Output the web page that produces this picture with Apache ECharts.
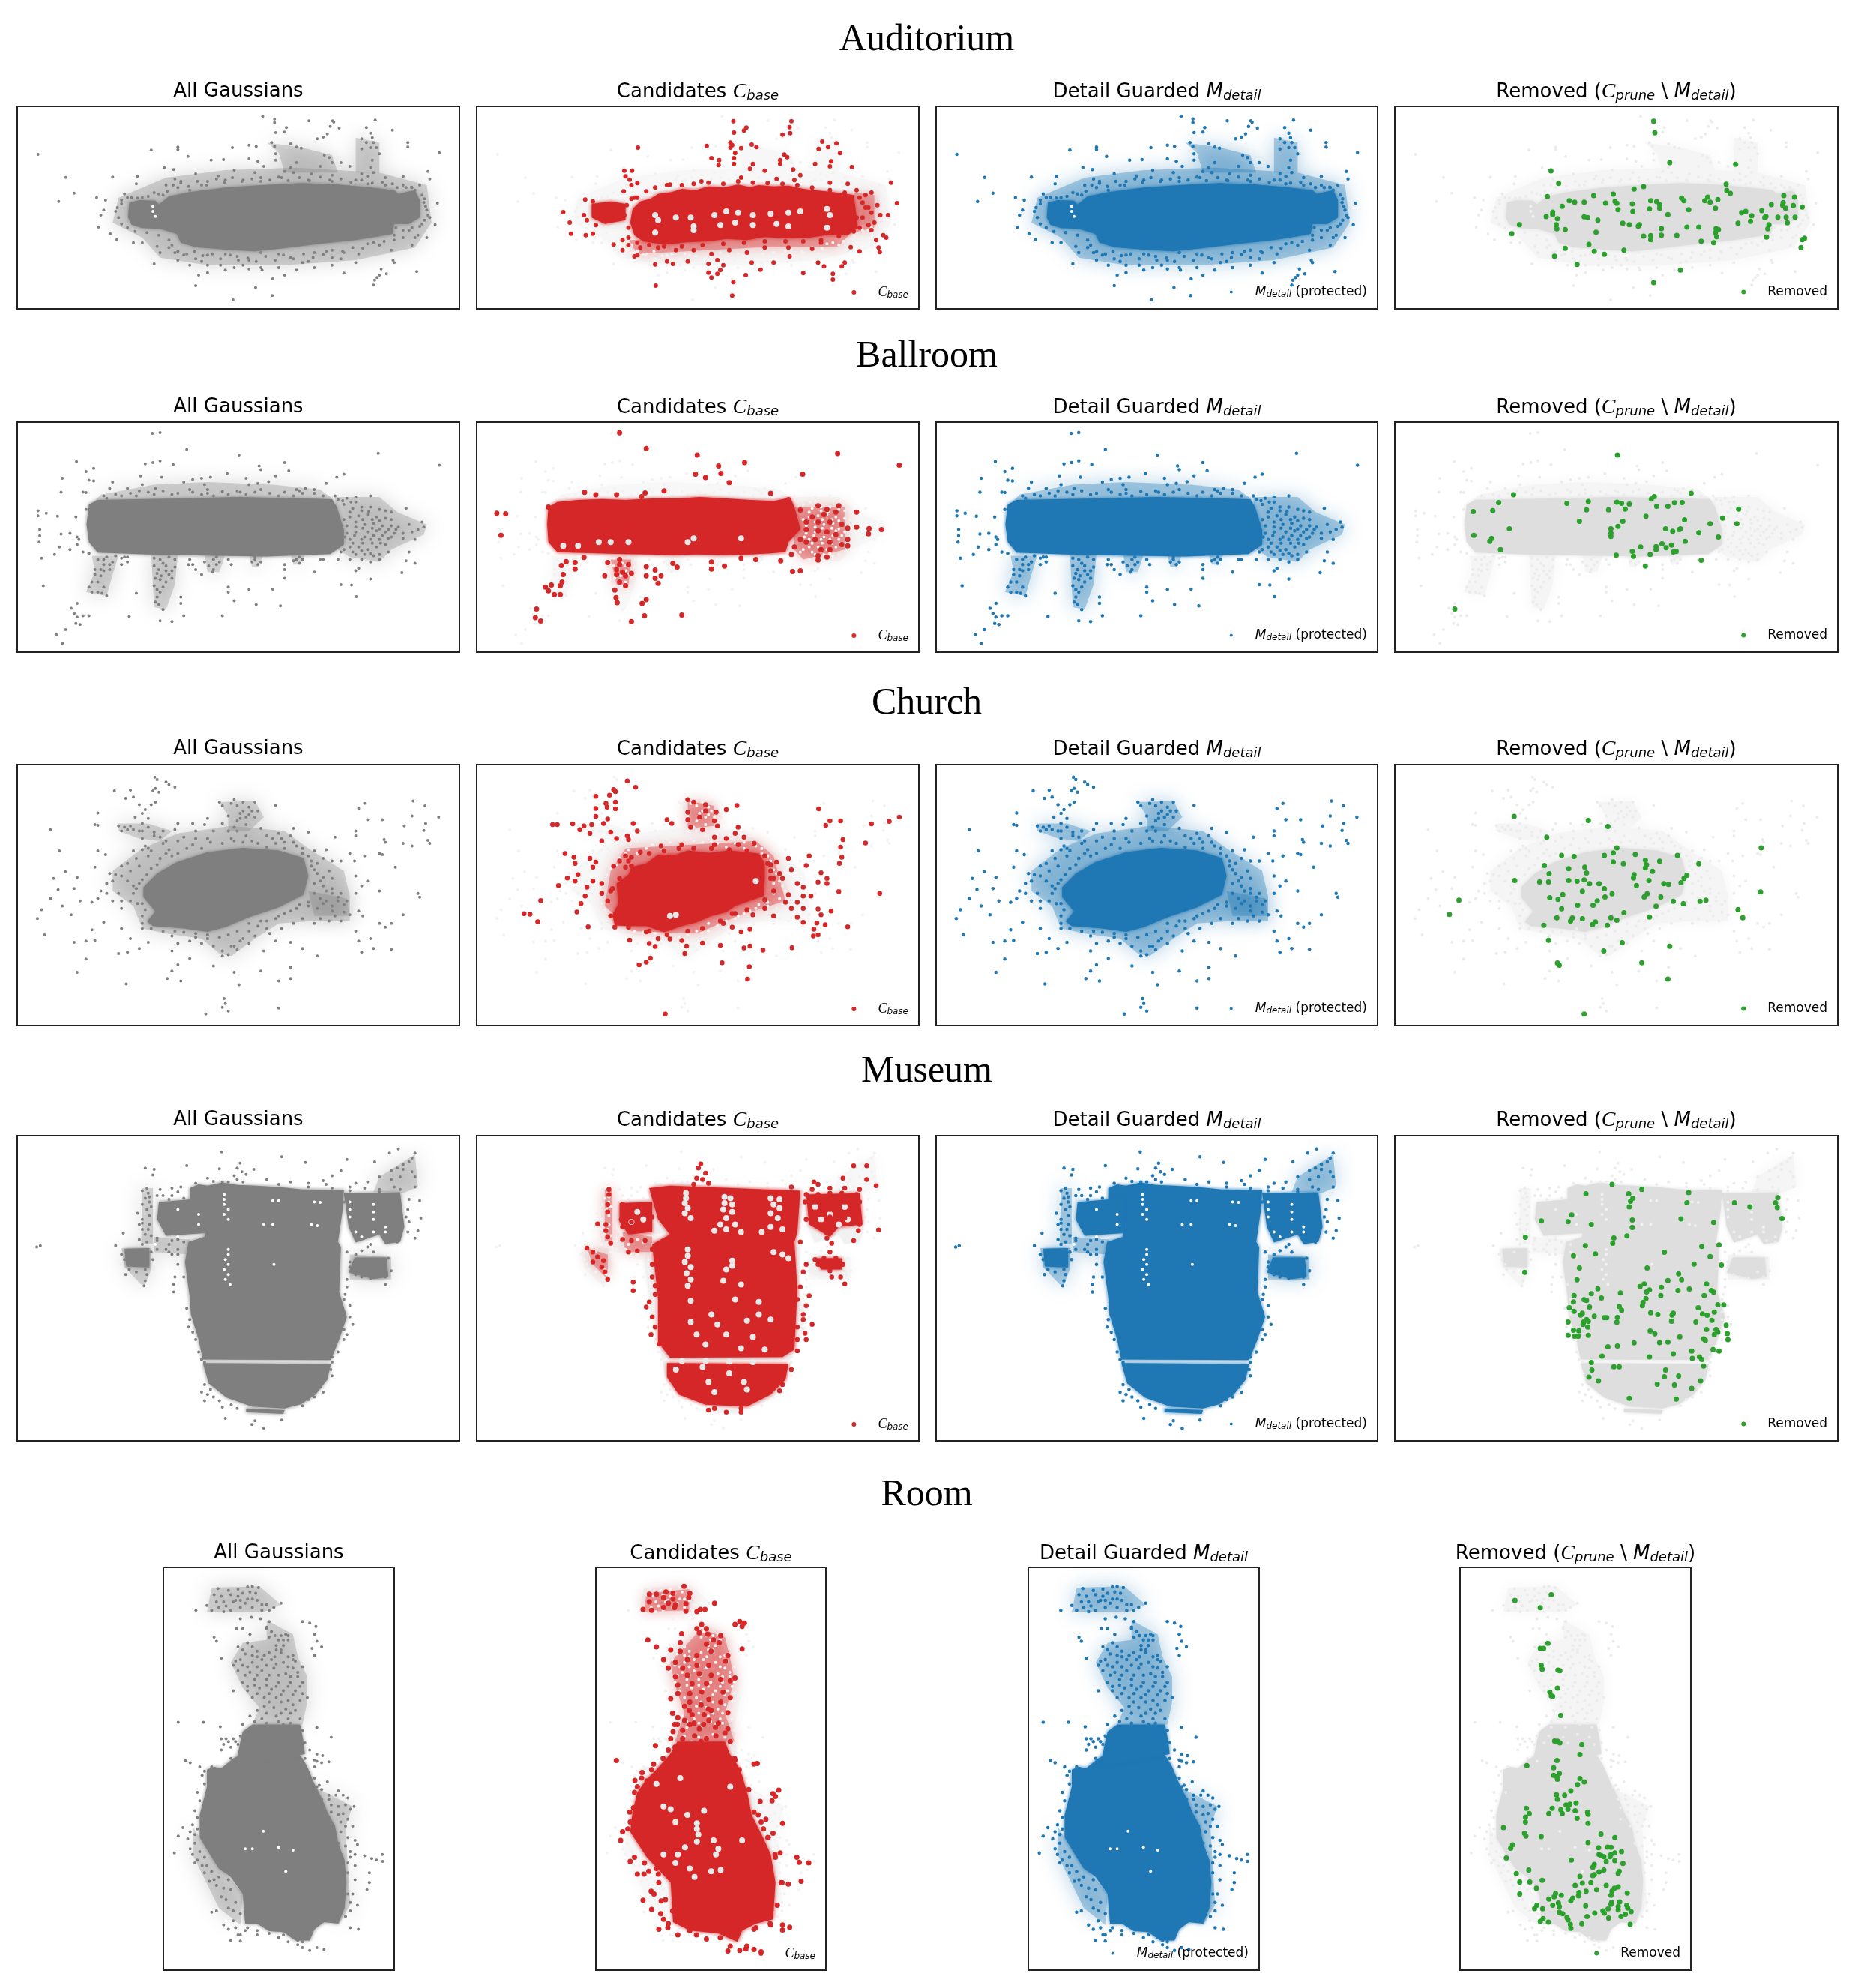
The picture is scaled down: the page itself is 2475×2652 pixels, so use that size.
<!DOCTYPE html>
<html>
<head>
<meta charset="utf-8">
<script src="https://cdn.jsdelivr.net/npm/echarts@6/dist/echarts.min.js"></script>
<style>
  html, body { margin: 0; background: #fff; }
  #chart { width: 2475px; height: 2652px; }
</style>
</head>
<body>
<div id="chart"></div>
<script>
// values, same unitless scene coordinates for all four panels of a row
const auditoriumCore = [
  [[218,540],[235,530],[262,532],[268,548],[285,515],[320,498],[380,480],[440,470],[510,462],[570,468],[620,478],[665,490],[672,505],[700,490],[708,530],[708,600],[690,625],[665,625],[662,665],[640,675],[600,690],[540,705],[480,722],[430,735],[380,728],[330,718],[305,700],[298,665],[270,645],[240,642],[222,628],[216,600]]
]
const auditoriumHaze = [
  [[200,520],[280,440],[380,410],[500,400],[640,420],[720,470],[728,620],[700,720],[600,770],[480,790],[350,790],[270,760],[240,680],[190,620]],
  [[600,280],[640,300],[640,420],[600,420]],
  [[450,300],[510,320],[560,350],[570,420],[480,420],[470,340]]
]
const auditoriumCandCore = [
  [[292,565],[305,535],[322,525],[335,505],[358,498],[375,485],[398,490],[420,475],[445,480],[470,468],[490,478],[505,470],[530,475],[555,472],[580,485],[605,492],[630,498],[665,510],[668,560],[672,640],[655,670],[620,670],[590,680],[550,682],[515,678],[485,690],[450,685],[420,695],[385,698],[345,708],[310,695],[295,670],[288,620]],
  [[223,545],[255,535],[280,545],[280,610],[245,625],[223,600]]
]
const auditoriumCandHaze = [
  [[285,690],[660,660],[640,715],[500,720],[300,745]],
  [[665,500],[700,510],[700,640],[665,660]]
]
const auditoriumCloud = [[443,195],[463,205],[463,220],[521,213],[561,213],[563,218],[633,210],[64,347],[255,330],[300,318],[300,328],[741,340],[111,439],[125,502],[99,535],[190,438],[163,520],[738,542],[734,628],[166,638],[186,665],[197,688],[483,240],[480,258],[465,260],[557,235],[572,242],[552,265],[545,278],[535,285],[618,240],[625,262],[628,280],[662,250],[610,285],[618,300],[630,300],[625,320],[635,320],[640,345],[610,325],[688,300],[688,318],[420,310],[432,315],[458,300],[463,315],[490,305],[500,318],[508,322],[392,320],[547,350],[555,360],[560,380],[465,345],[465,370],[317,355],[356,370],[377,368],[420,365],[435,375],[445,395],[500,380],[490,400],[480,415],[495,420],[540,395],[575,380],[590,395],[628,370],[625,400],[630,420],[610,425],[620,435],[277,400],[293,408],[330,425],[368,433],[232,435],[230,465],[295,445],[305,455],[350,455],[395,410],[430,420],[475,440],[525,425],[560,430],[600,450],[650,440],[680,435],[722,415],[708,470],[695,480],[725,445],[280,470],[300,480],[320,490],[340,470],[380,450],[410,450],[440,455],[520,450],[560,455],[620,465],[650,470],[670,480],[260,500],[275,510],[210,505],[205,530],[178,530],[175,570],[170,590],[198,560],[215,520],[240,520],[685,480],[700,490],[712,510],[715,540],[720,570],[722,590],[716,610],[708,635],[690,650],[705,670],[680,680],[720,680],[668,640],[665,670],[240,700],[225,700],[265,715],[285,720],[260,785],[270,740],[295,740],[310,750],[330,765],[350,750],[380,745],[400,755],[420,770],[440,740],[470,745],[490,760],[510,780],[530,740],[550,735],[575,765],[580,740],[605,745],[620,705],[640,710],[660,730],[665,780],[695,710],[700,680],[600,780],[560,790],[530,800],[500,810],[470,800],[440,800],[410,790],[380,810],[350,820],[335,830],[320,790],[580,822],[480,830],[460,845],[442,810],[632,850],[640,830],[636,840],[652,825],[630,870],[703,816],[330,872],[431,880],[459,912],[393,929],[643,805],[663,770]]
const auditoriumEdge = [[292,470],[305,462],[318,475],[333,455],[348,470],[365,445],[378,460],[392,440],[408,455],[425,445],[440,440],[455,450],[470,438],[486,452],[505,440],[522,452],[540,438],[556,450],[575,445],[592,458],[610,450],[628,462],[645,458],[662,465],[680,470],[694,478],[268,505],[282,495],[250,515],[232,522],[222,520],[205,545],[195,575],[200,600],[205,625],[215,640],[228,655],[248,660],[268,670],[285,690],[290,710],[300,735],[315,745],[328,735],[342,752],[358,745],[372,765],[388,750],[402,770],[418,762],[432,775],[448,755],[464,770],[478,750],[495,765],[512,745],[528,760],[545,748],[560,730],[578,735],[595,720],[612,722],[630,700],[648,695],[665,690],[680,650],[695,640],[712,625],[725,600],[718,555],[716,525],[350,790],[372,790],[395,800],[420,805],[520,775],[560,760],[300,770],[340,775]]
const auditoriumCloudGaps = [[258,555],[258,575],[262,595]]
const auditoriumCand = [[462,214],[560,214],[557,238],[484,240],[480,252],[463,260],[558,262],[545,268],[301,320],[417,313],[457,300],[460,310],[457,320],[475,322],[493,308],[501,318],[612,296],[636,303],[622,318],[606,325],[642,342],[465,342],[548,348],[553,358],[425,362],[438,370],[463,362],[463,385],[541,370],[600,385],[627,375],[625,395],[495,385],[490,405],[437,390],[541,385],[563,408],[662,398],[278,412],[291,412],[515,412],[280,435],[287,448],[300,462],[290,470],[408,455],[475,440],[575,430],[535,445],[565,450],[625,460],[655,465],[728,460],[355,468],[277,495],[295,520],[212,528],[738,542],[705,550],[695,580],[710,590],[723,590],[700,620],[175,578],[186,620],[188,664],[213,670],[225,664],[715,670],[720,680],[703,690],[707,720],[709,738],[675,735],[660,718],[275,690],[285,710],[260,708],[275,730],[305,720],[335,720],[365,730],[395,730],[425,745],[455,730],[485,740],[515,720],[555,720],[595,725],[610,700],[300,750],[295,755],[350,775],[330,787],[360,785],[385,775],[420,785],[435,770],[445,790],[493,780],[530,780],[557,755],[605,780],[615,795],[650,780],[645,795],[420,820],[440,810],[425,840],[435,825],[483,830],[508,808],[580,822],[630,825],[630,848],[331,872],[462,858],[460,912],[685,510],[695,500],[670,490],[680,540],[690,560],[670,600],[675,640],[695,650]]
const auditoriumCandEdge = [[300,520],[315,495],[330,480],[350,470],[375,470],[395,465],[420,460],[445,465],[470,455],[495,460],[520,462],[545,465],[570,470],[595,480],[625,490],[650,500],[675,520],[685,560],[680,600],[690,630],[665,655],[640,675],[610,690],[580,695],[550,695],[515,695],[480,700],[445,705],[410,710],[375,715],[345,715],[320,710],[300,700],[285,680],[285,640],[278,590],[282,550],[298,580],[210,590],[215,610],[230,630],[225,535],[290,525]]
const auditoriumCandHoles = [[390,600],[430,590],[450,575],[470,580],[495,590],[525,585],[555,580],[575,575],[620,565],[625,590],[330,590],[335,610],[395,635],[440,630],[465,620],[495,630],[535,625],[555,635],[330,660],[395,650],[620,640],[365,600]]
const auditoriumRemoved = [[465,214],[467,261],[492,380],[603,387],[292,413],[305,463],[587,466],[588,491],[594,503],[448,476],[432,486],[397,506],[364,512],[286,516],[323,532],[332,538],[348,538],[384,542],[400,535],[403,543],[429,545],[460,532],[470,536],[475,548],[512,522],[516,532],[551,532],[556,518],[560,538],[573,528],[684,512],[702,518],[663,548],[683,540],[682,550],[687,562],[700,552],[715,558],[311,555],[405,568],[430,575],[458,565],[475,562],[524,568],[569,562],[647,572],[613,580],[620,575],[295,578],[295,588],[489,588],[630,592],[284,596],[348,597],[354,600],[303,604],[371,610],[652,600],[654,595],[674,598],[688,598],[703,598],[628,615],[607,622],[690,621],[413,622],[424,628],[439,634],[441,628],[239,628],[301,628],[302,645],[316,648],[478,644],[521,638],[541,638],[659,628],[657,645],[570,644],[574,648],[569,660],[368,658],[226,664],[448,674],[460,672],[460,688],[478,670],[504,671],[571,676],[655,678],[719,682],[715,688],[545,694],[566,700],[356,707],[713,720],[316,723],[365,735],[415,730],[382,747],[298,754],[336,787],[510,810],[465,860]]

const ballroomCore = [
  [[150,460],[165,442],[300,436],[400,430],[560,438],[568,470],[580,560],[580,620],[557,658],[450,668],[350,664],[250,660],[165,652],[150,610],[146,540]]
]
const ballroomHaze = [
  [[565,430],[640,430],[670,490],[720,540],[715,580],[660,640],[640,690],[590,670],[570,640]],
  [[170,420],[260,380],[350,370],[460,380],[540,400],[560,435],[160,445]],
  [[255,660],[300,660],[295,780],[280,880],[260,870],[258,780]],
  [[155,665],[200,665],[190,740],[180,825],[145,810],[160,730]],
  [[345,660],[380,660],[370,730],[350,730]],
  [[420,660],[445,660],[435,710],[425,710]],
  [[490,660],[515,660],[505,700],[495,700]]
]
const ballroomCandCore = [
  [[150,470],[165,450],[200,442],[240,438],[280,442],[325,436],[370,436],[405,430],[450,436],[490,442],[530,446],[558,432],[565,470],[572,530],[575,560],[555,610],[550,650],[525,655],[490,660],[445,662],[400,660],[360,662],[320,660],[280,658],[235,655],[190,652],[165,650],[150,610],[148,540]]
]
const ballroomCandHaze = [
  [[565,470],[650,470],[650,640],[580,680],[565,640]],
  [[255,680],[290,680],[285,780],[265,780]]
]
const ballroomCloud = [[257,175],[270,172],[315,240],[403,262],[638,255],[741,302],[129,288],[245,297],[258,292],[270,285],[292,300],[145,328],[158,315],[105,355],[150,362],[158,365],[103,410],[140,410],[145,412],[480,292],[437,305],[440,320],[383,335],[487,325],[580,338],[568,350],[550,375],[190,370],[185,395],[215,395],[237,345],[240,380],[235,405],[273,350],[262,395],[310,370],[325,360],[340,355],[355,350],[345,380],[350,400],[340,420],[320,400],[290,420],[260,420],[230,425],[205,425],[180,435],[415,355],[420,380],[435,375],[453,368],[440,400],[405,410],[415,420],[385,420],[465,345],[500,400],[515,395],[530,400],[510,415],[495,425],[470,425],[545,425],[360,425],[565,425],[585,435],[600,430],[625,425],[580,460],[600,450],[610,470],[625,470],[640,480],[650,485],[660,490],[685,475],[590,490],[605,505],[620,500],[635,510],[650,515],[660,520],[580,520],[600,530],[615,540],[630,535],[645,545],[660,545],[672,550],[690,540],[712,530],[715,550],[705,560],[695,570],[680,575],[665,575],[650,570],[635,565],[620,570],[600,570],[585,575],[590,600],[610,600],[625,600],[640,600],[655,595],[680,595],[700,600],[590,630],[605,630],[620,640],[635,630],[650,620],[615,660],[630,665],[655,650],[690,650],[700,695],[640,680],[600,660],[575,650],[685,685],[570,680],[545,680],[64,485],[64,505],[67,560],[67,585],[66,610],[78,495],[97,507],[128,510],[145,480],[118,575],[103,578],[130,590],[100,630],[118,640],[130,620],[92,660],[70,675],[140,650],[150,655],[73,785],[133,600],[165,680],[180,670],[175,700],[160,720],[185,720],[170,745],[165,770],[150,790],[165,810],[180,825],[155,810],[190,690],[210,670],[215,690],[260,675],[285,670],[295,680],[260,705],[280,705],[295,710],[265,735],[285,740],[270,760],[280,770],[260,785],[270,810],[265,830],[262,850],[275,880],[305,830],[305,855],[310,905],[290,928],[270,925],[218,908],[230,815],[318,700],[330,720],[340,740],[360,680],[365,700],[370,690],[360,720],[385,680],[385,790],[385,810],[395,845],[430,680],[435,700],[420,800],[432,860],[473,865],[375,905],[460,798],[480,720],[480,755],[500,680],[505,695],[540,680],[530,730],[605,715],[600,725],[575,780],[593,782],[601,828],[625,758],[678,732],[130,855],[120,875],[125,895],[130,910],[140,905],[135,940],[128,935],[150,905],[111,960],[95,980],[105,1015]]
const ballroomEdge = [[175,425],[195,420],[220,415],[250,410],[275,405],[300,415],[325,410],[350,415],[375,408],[400,405],[430,410],[455,415],[480,410],[505,405],[530,415],[570,440],[578,445],[592,450],[595,475],[610,485],[622,488],[590,510],[612,520],[628,520],[640,525],[585,545],[600,550],[612,555],[628,555],[640,558],[655,560],[668,560],[582,590],[598,585],[615,590],[630,585],[645,585],[660,590],[595,615],[612,615],[628,615],[642,615],[580,640],[595,650],[610,645],[625,655],[640,660],[610,680],[625,690],[590,680],[270,680],[275,695],[268,720],[280,725],[290,725],[272,745],[262,755],[290,755],[275,790],[265,800],[268,860],[175,680],[185,700],[170,720],[175,725],[160,740],[155,770],[175,790],[172,815],[345,690],[352,705],[358,730],[365,670],[320,680],[325,700],[215,670],[205,700],[430,668],[425,690],[440,690],[505,670],[495,685],[510,680],[480,700],[390,700],[205,675],[195,665]]
const ballroomCand = [[270,173],[315,236],[401,262],[638,256],[742,302],[437,305],[481,292],[398,338],[415,352],[441,335],[579,338],[455,372],[211,411],[230,421],[265,421],[313,413],[307,428],[345,405],[525,415],[63,495],[78,497],[70,583],[150,470],[555,440],[575,482],[605,465],[640,465],[620,480],[635,490],[670,490],[595,510],[615,500],[585,530],[605,530],[625,530],[645,540],[670,550],[691,556],[712,560],[690,577],[655,555],[585,560],[605,565],[620,570],[635,580],[655,600],[575,600],[600,600],[625,610],[585,610],[645,620],[655,625],[565,630],[610,640],[625,640],[560,660],[605,665],[620,670],[605,682],[575,725],[562,728],[542,685],[210,672],[180,688],[172,704],[195,692],[195,718],[175,740],[173,770],[155,782],[145,790],[150,805],[160,820],[170,820],[170,785],[250,692],[270,680],[270,700],[285,700],[265,720],[275,730],[265,740],[280,745],[270,770],[280,785],[262,802],[264,832],[266,852],[315,708],[330,722],[340,745],[315,745],[330,755],[335,775],[290,735],[245,745],[360,695],[367,710],[425,690],[425,718],[447,706],[475,675],[500,680],[315,840],[308,855],[130,878],[128,912],[137,926],[290,928],[312,905],[375,902]]
const ballroomCandHoles = [[395,595],[475,595],[235,610],[200,625],[255,610],[285,610],[175,625],[385,610]]
const ballroomRemoved = [[404,262],[229,421],[528,415],[466,428],[461,438],[204,452],[319,455],[355,448],[403,451],[411,455],[424,458],[500,453],[513,452],[470,467],[489,467],[161,488],[194,484],[352,481],[389,481],[417,478],[608,478],[452,507],[581,514],[340,527],[413,527],[517,521],[560,537],[605,537],[405,547],[222,557],[393,557],[485,557],[510,557],[508,560],[497,567],[393,575],[393,588],[162,583],[541,573],[574,590],[192,596],[189,607],[518,607],[479,617],[495,622],[469,628],[469,640],[443,630],[486,633],[207,640],[429,647],[498,650],[503,648],[402,663],[431,667],[459,660],[545,683],[451,706],[130,878]]

const churchCore = [
  [[242,625],[265,570],[298,525],[350,485],[410,468],[470,478],[512,508],[520,580],[512,655],[470,705],[420,745],[380,785],[350,803],[310,790],[258,780],[248,762],[262,722],[242,665]]
]
const churchHaze = [
  [[190,560],[240,470],[300,410],[390,380],[480,400],[520,470],[580,560],[590,660],[590,760],[530,760],[470,770],[430,830],[390,900],[370,890],[340,830],[280,810],[240,790],[225,700],[190,640]],
  [[370,285],[430,280],[445,345],[420,400],[385,400],[385,340]],
  [[200,370],[250,370],[290,400],[270,440],[235,430],[200,400]],
  [[520,640],[585,670],[590,740],[530,740]]
]
const churchCandCore = [
  [[265,610],[285,575],[290,545],[315,530],[335,495],[365,495],[385,478],[420,488],[455,478],[505,490],[515,530],[515,590],[513,660],[465,700],[450,725],[425,740],[400,765],[375,780],[345,805],[315,780],[290,780],[262,778],[258,735],[268,690]]
]
const churchCandHaze = [
  [[280,470],[500,440],[530,500],[550,680],[470,740],[400,810],[290,800],[245,700],[255,560]],
  [[385,280],[430,300],[430,380],[385,390]]
]
const churchCloud = [[261,185],[265,195],[280,205],[285,215],[295,225],[262,230],[258,240],[268,245],[193,240],[220,237],[212,270],[225,265],[262,285],[255,295],[235,295],[245,315],[240,330],[228,345],[165,328],[160,375],[165,378],[200,380],[210,385],[220,380],[240,370],[205,400],[235,400],[260,405],[275,400],[295,395],[270,425],[300,370],[325,370],[350,350],[240,430],[245,460],[275,450],[300,440],[370,285],[395,275],[410,285],[430,285],[400,300],[420,305],[435,320],[420,335],[430,345],[465,298],[385,340],[400,360],[385,400],[400,400],[415,420],[390,430],[425,440],[450,420],[470,410],[495,390],[490,420],[500,460],[480,445],[465,450],[520,405],[360,400],[350,430],[330,430],[615,290],[605,310],[620,355],[645,355],[697,280],[695,340],[717,300],[740,345],[682,380],[718,370],[715,398],[600,400],[565,425],[600,420],[648,435],[650,445],[680,450],[722,438],[725,450],[695,460],[590,490],[640,490],[645,495],[667,545],[615,500],[598,520],[575,520],[550,475],[530,480],[510,470],[520,500],[545,510],[560,520],[85,395],[100,480],[165,480],[178,495],[160,545],[110,563],[90,590],[130,585],[98,635],[125,630],[85,670],[70,715],[63,750],[75,815],[105,700],[120,735],[135,680],[155,685],[165,670],[180,650],[205,710],[195,575],[205,580],[185,570],[220,560],[235,540],[215,600],[225,620],[240,595],[200,650],[220,680],[240,690],[250,500],[270,510],[250,470],[280,490],[230,510],[175,765],[155,795],[125,845],[145,840],[160,838],[130,965],[145,912],[213,1012],[200,890],[215,885],[235,870],[250,845],[205,790],[220,830],[240,790],[525,540],[535,570],[545,585],[555,560],[560,590],[530,610],[545,620],[560,630],[575,650],[585,680],[570,680],[550,680],[530,650],[520,700],[535,710],[560,720],[580,725],[500,710],[480,730],[465,750],[440,760],[420,770],[450,790],[510,750],[540,750],[575,760],[590,735],[605,720],[612,740],[640,640],[705,650],[708,665],[600,580],[620,600],[610,620],[600,650],[660,770],[680,735],[625,830],[640,770],[650,785],[600,800],[605,840],[630,870],[660,873],[610,885],[535,900],[510,870],[490,845],[465,840],[445,880],[420,850],[400,875],[385,895],[375,900],[395,860],[350,830],[320,840],[330,810],[290,820],[300,850],[290,880],[320,910],[300,935],[290,960],[282,990],[305,1000],[360,940],[395,965],[440,960],[490,945],[490,990],[470,1000],[403,1015],[378,1070],[380,1090],[375,1105],[385,1120],[347,1132],[470,1108]]
const churchEdge = [[270,510],[290,500],[285,475],[300,490],[315,470],[325,455],[340,470],[355,445],[375,450],[395,440],[410,445],[435,450],[450,465],[480,470],[495,445],[510,490],[525,520],[535,530],[530,555],[540,600],[550,640],[540,670],[520,685],[505,695],[490,720],[470,740],[450,760],[435,780],[420,800],[400,800],[385,815],[370,825],[350,815],[330,825],[310,805],[295,800],[275,800],[255,790],[240,770],[240,740],[245,715],[232,690],[225,650],[230,630],[235,610],[248,575],[255,550],[265,535],[240,475],[255,480],[225,480],[215,530],[205,540],[190,600],[180,610],[170,640],[190,680],[205,680],[560,650],[570,665],[580,695],[560,700],[545,690],[565,740],[555,760],[530,770],[495,770],[475,790],[455,810],[430,820],[410,830],[390,860],[375,880],[405,840],[335,790],[340,850],[360,860],[280,440],[260,420],[310,425],[330,400],[345,375],[375,370],[395,385],[405,350],[415,375],[440,390],[460,430],[475,430],[410,320],[425,320],[405,330],[415,345],[390,290],[375,300],[240,400],[225,395],[250,385],[215,395],[250,350]]
const churchCand = [[283,200],[297,226],[260,235],[263,243],[230,262],[253,257],[247,290],[263,285],[230,310],[249,305],[263,312],[230,342],[250,352],[157,375],[165,375],[191,372],[210,380],[223,375],[243,370],[203,395],[220,410],[255,405],[283,420],[300,400],[293,370],[240,440],[265,430],[285,435],[350,355],[358,370],[385,275],[395,285],[415,295],[468,298],[385,325],[415,320],[433,325],[450,315],[385,355],[405,345],[430,360],[390,385],[410,395],[435,380],[470,385],[465,410],[430,425],[450,430],[480,425],[430,455],[470,455],[497,450],[375,455],[340,460],[305,485],[280,500],[285,520],[178,490],[193,505],[220,510],[195,530],[230,525],[225,545],[260,540],[290,540],[200,575],[182,588],[195,600],[225,600],[167,618],[240,610],[215,625],[255,640],[212,660],[137,678],[205,690],[198,724],[109,731],[119,733],[132,763],[217,783],[520,530],[535,525],[555,510],[590,500],[585,538],[525,560],[540,570],[560,555],[525,590],[545,590],[610,567],[620,590],[605,605],[620,610],[570,610],[580,625],[555,655],[580,660],[593,660],[640,642],[709,650],[550,685],[570,685],[580,710],[560,710],[605,712],[627,720],[610,735],[570,745],[580,765],[603,768],[617,775],[655,783],[598,793],[605,815],[597,820],[515,710],[530,740],[495,735],[465,730],[445,770],[460,785],[490,793],[475,803],[315,803],[287,836],[335,830],[355,832],[320,850],[330,862],[375,838],[383,860],[380,890],[410,848],[440,857],[480,868],[490,860],[512,877],[561,867],[322,908],[315,925],[303,935],[443,927],[489,943],[486,992],[347,1132],[606,312],[625,360],[643,360],[618,378],[695,372],[725,362],[742,345],[647,435],[643,465],[685,448],[645,505],[641,530]]
const churchCandEdge = [[280,545],[270,520],[290,505],[320,490],[345,480],[370,470],[395,470],[425,470],[455,475],[485,480],[515,500],[525,535],[530,590],[530,640],[515,675],[485,715],[460,730],[440,760],[410,790],[385,800],[350,815],[320,800],[285,785],[262,785],[255,740],[250,680],[258,630],[270,590],[240,650]]
const churchCandHoles = [[500,600],[365,735],[355,740]]
const churchRemoved = [[230,342],[355,358],[388,382],[285,425],[403,468],[646,468],[397,488],[382,498],[310,498],[331,502],[434,494],[505,498],[451,517],[475,521],[397,524],[414,531],[541,531],[281,538],[453,535],[451,548],[349,545],[322,551],[463,561],[352,568],[289,571],[432,575],[521,577],[431,588],[516,590],[457,598],[322,598],[336,601],[348,596],[231,598],[273,604],[288,604],[511,607],[482,611],[490,614],[357,611],[373,611],[436,618],[382,631],[345,641],[645,644],[395,651],[454,651],[312,654],[449,664],[477,664],[383,664],[290,667],[304,674],[370,680],[498,681],[515,691],[543,681],[553,677],[137,677],[363,697],[337,697],[469,701],[310,711],[607,714],[415,727],[121,734],[302,747],[328,748],[345,751],[393,747],[403,757],[458,744],[615,747],[325,761],[367,764],[362,774],[387,777],[280,777],[288,837],[412,847],[492,861],[381,880],[445,927],[303,928],[306,937],[489,992],[348,1132]]

const museumCore = [
  [[320,345],[335,330],[350,335],[375,322],[400,332],[430,335],[470,340],[510,350],[580,352],[578,430],[570,560],[575,580],[572,760],[585,860],[572,950],[558,1032],[342,1030],[335,950],[322,850],[320,780],[312,640],[318,560],[345,540],[345,480],[320,470]],
  [[268,400],[345,385],[345,525],[280,535],[265,470]],
  [[580,365],[675,362],[682,500],[675,560],[650,568],[640,530],[600,562],[588,500]],
  [[598,622],[652,622],[655,700],[630,708],[588,682]],
  [[210,588],[252,585],[252,662],[213,658]],
  [[342,1044],[558,1048],[552,1110],[532,1170],[508,1208],[480,1225],[425,1218],[382,1182],[352,1125]],
  [[415,1225],[480,1232],[478,1247],[415,1240]]
]
const museumHaze = [
  [[240,345],[258,345],[258,570],[238,570]],
  [[205,585],[255,585],[255,670],[245,730],[238,730],[210,660]],
  [[640,300],[700,210],[705,340],[680,365],[630,360]],
  [[590,610],[660,620],[660,710],[590,710]],
  [[318,560],[345,560],[345,720],[318,720]],
  [[260,540],[320,550],[320,610],[260,600]]
]
const museumCandCore = [
  [[320,345],[355,335],[575,355],[570,520],[565,560],[570,750],[565,990],[545,1020],[355,1022],[335,960],[335,790],[330,680],[325,570],[355,530],[335,470]],
  [[350,1044],[555,1048],[550,1110],[525,1170],[485,1218],[415,1210],[370,1170],[350,1100]],
  [[270,405],[325,400],[325,520],[285,530],[270,480]],
  [[585,370],[675,365],[680,490],[640,500],[625,540],[590,490]],
  [[600,625],[645,625],[645,670],[610,670]]
]
const museumCandHaze = [
  [[215,585],[250,610],[250,710],[225,650]],
  [[245,350],[258,350],[258,560],[245,560]],
  [[275,520],[325,540],[325,600],[280,600]]
]
const museumCloud = [[672,188],[657,205],[700,205],[695,225],[690,240],[680,250],[670,265],[660,275],[632,240],[680,270],[695,280],[700,300],[675,300],[660,310],[640,300],[620,320],[600,325],[575,275],[560,295],[545,315],[585,230],[515,242],[475,220],[374,200],[315,255],[245,265],[260,270],[258,292],[405,245],[400,265],[408,280],[395,295],[415,290],[370,268],[428,270],[350,305],[375,320],[410,320],[450,310],[490,320],[520,325],[550,330],[590,340],[615,345],[640,350],[665,340],[700,340],[708,395],[688,430],[710,465],[705,515],[700,545],[685,460],[248,345],[250,365],[245,385],[252,400],[248,430],[240,470],[235,490],[250,510],[245,530],[248,560],[240,570],[208,525],[195,575],[68,575],[62,580],[270,350],[290,345],[305,340],[275,375],[290,375],[300,550],[265,545],[285,570],[300,590],[265,590],[285,600],[300,610],[325,570],[210,630],[215,650],[230,600],[248,690],[245,715],[243,735],[212,690],[295,700],[293,730],[293,760],[325,600],[335,620],[335,700],[340,715],[580,400],[620,580],[610,595],[630,600],[655,625],[660,675],[650,700],[625,705],[600,690],[585,710],[650,730],[670,560],[655,555],[585,740],[580,790],[590,815],[580,840],[580,870],[595,890],[580,910],[580,950],[570,1000],[560,1020],[325,790],[315,825],[320,870],[325,920],[330,950],[340,1030],[558,1070],[560,1095],[340,1160],[350,1170],[345,1195],[375,1220],[380,1265],[430,1275],[425,1290],[445,1305],[475,1272],[530,1180],[520,1190],[545,1160],[360,1180],[400,1225]]
const museumEdge = [[240,355],[252,380],[240,410],[255,420],[232,445],[252,455],[240,485],[252,490],[240,510],[255,535],[235,550],[265,375],[285,390],[310,385],[300,360],[330,325],[360,318],[385,320],[400,310],[470,330],[520,340],[560,345],[590,355],[640,360],[675,350],[690,390],[690,480],[688,520],[670,540],[625,570],[265,555],[290,555],[310,560],[280,590],[255,600],[258,630],[205,610],[218,670],[230,680],[245,670],[290,610],[300,650],[310,700],[320,730],[585,600],[600,610],[590,640],[590,660],[640,680],[610,700],[582,770],[590,860],[585,930],[325,850],[318,900],[335,1000],[345,1130],[355,1150],[370,1195],[390,1210],[540,1140],[510,1215],[345,1040],[560,1040]]
const museumCloudGaps = [[378,370],[378,390],[378,410],[385,430],[378,450],[385,470],[460,395],[470,395],[530,400],[540,402],[445,490],[460,490],[525,490],[535,495],[385,590],[385,610],[380,630],[385,650],[378,670],[385,690],[380,710],[388,730],[462,650],[590,400],[590,430],[590,460],[600,520],[630,410],[630,440],[630,470],[650,500],[650,520],[630,520],[610,540],[335,450],[335,490],[300,540],[262,570],[300,430]]
const museumCand = [[407,248],[403,265],[415,285],[400,305],[410,310],[395,330],[420,325],[665,256],[687,256],[647,305],[687,310],[703,335],[598,320],[605,330],[560,340],[595,350],[625,345],[650,345],[675,350],[252,350],[252,370],[250,410],[250,440],[233,488],[247,490],[247,515],[250,540],[255,565],[275,410],[285,420],[295,415],[310,420],[275,440],[290,450],[273,470],[290,480],[275,500],[305,500],[275,550],[290,555],[313,555],[325,590],[285,600],[300,595],[215,585],[225,600],[233,620],[243,635],[225,640],[240,660],[245,680],[250,710],[293,720],[293,755],[325,650],[325,700],[330,735],[330,770],[325,460],[315,420],[585,370],[605,370],[625,365],[645,365],[670,370],[583,400],[600,400],[615,410],[635,400],[650,400],[675,400],[600,440],[625,430],[645,440],[670,430],[625,460],[650,465],[673,470],[585,470],[610,490],[625,500],[675,490],[673,515],[707,512],[620,525],[620,545],[628,565],[665,555],[600,630],[615,625],[635,625],[605,650],[625,650],[647,650],[625,675],[628,700],[650,728],[643,700],[625,600],[575,560],[585,650],[580,680],[575,740],[590,775],[570,790],[585,815],[580,850],[595,890],[580,870],[570,900],[583,925],[570,950],[585,950],[570,995],[315,820],[325,860],[330,900],[323,930],[337,968],[320,800],[560,1070],[545,1130],[540,1155],[420,1232],[430,1225],[450,1240],[475,1240],[475,1225]]
const museumCandHoles = [[382,365],[382,385],[380,405],[385,425],[380,445],[390,465],[447,380],[457,385],[447,405],[460,410],[445,430],[460,440],[450,465],[525,385],[540,390],[530,410],[540,425],[525,445],[537,465],[440,490],[465,490],[430,515],[450,510],[475,520],[525,500],[545,510],[510,520],[385,590],[385,615],[380,640],[390,660],[383,685],[390,710],[385,735],[460,635],[460,655],[450,670],[530,600],[545,610],[555,625],[445,715],[475,730],[390,795],[465,790],[505,800],[425,850],[505,850],[390,880],[435,890],[485,875],[525,870],[400,930],[450,930],[495,940],[415,970],[475,985],[515,990],[375,1036],[415,1036],[455,1038],[495,1040],[365,1070],[410,1060],[455,1085],[420,1120],[480,1120],[430,1160],[485,1150],[300,440],[290,480],[310,470],[600,420],[625,450],[650,420],[655,470],[610,470],[640,490]]
const museumRemoved = [[395,330],[445,350],[351,367],[423,367],[524,363],[674,383],[430,385],[426,397],[521,403],[601,403],[670,403],[673,423],[627,420],[424,420],[327,452],[681,466],[429,472],[511,468],[276,476],[321,479],[360,490],[429,502],[566,482],[420,536],[398,544],[249,541],[396,565],[350,575],[546,578],[575,572],[483,601],[367,608],[330,615],[560,618],[533,648],[579,652],[454,664],[340,664],[248,681],[507,687],[336,711],[512,711],[489,714],[554,728],[449,728],[442,738],[371,747],[478,741],[458,752],[453,760],[506,754],[525,748],[562,754],[566,761],[409,764],[360,767],[331,774],[550,774],[477,774],[452,786],[377,784],[348,791],[352,794],[330,800],[447,802],[446,815],[573,811],[583,812],[323,823],[357,820],[407,818],[540,823],[331,837],[411,833],[567,840],[345,845],[342,852],[460,843],[472,850],[498,845],[496,852],[547,848],[555,853],[365,857],[382,863],[386,863],[404,862],[352,870],[347,880],[355,878],[563,873],[321,880],[403,881],[495,877],[536,880],[346,890],[354,900],[587,893],[330,913],[339,915],[554,910],[570,910],[459,916],[573,920],[467,927],[589,926],[567,930],[321,933],[332,937],[338,937],[355,933],[509,939],[549,947],[590,950],[552,953],[432,963],[475,962],[489,960],[388,979],[404,976],[565,990],[575,996],[529,996],[498,1007],[378,1016],[458,1019],[530,1025],[542,1019],[546,1030],[360,1042],[398,1059],[407,1059],[549,1056],[361,1072],[485,1072],[356,1100],[483,1099],[507,1096],[372,1115],[544,1115],[471,1129],[500,1132],[529,1145],[424,1185],[503,1188]]

const roomCore = [
  [[120,800],[135,790],[150,795],[175,760],[200,740],[230,720],[300,720],[320,760],[330,790],[345,850],[360,900],[372,950],[388,1000],[395,1060],[408,1120],[412,1200],[408,1290],[395,1345],[365,1340],[345,1365],[335,1405],[305,1405],[280,1375],[250,1372],[225,1345],[200,1345],[195,1240],[170,1180],[145,1150],[130,1110],[105,1040],[105,960],[120,860]],
  [[215,640],[315,640],[322,700],[325,745],[180,785],[190,700],[195,665]]
]
const roomHaze = [
  [[130,155],[230,150],[275,215],[240,240],[120,240]],
  [[245,270],[300,320],[310,400],[330,470],[330,560],[320,640],[215,640],[230,580],[195,510],[170,420],[195,350],[245,340]],
  [[345,860],[425,930],[410,1000],[420,1280],[395,1350],[405,1100],[380,1000]],
  [[90,1000],[130,1110],[195,1240],[190,1350],[145,1290],[90,1100]]
]
const roomCandCore = [
  [[116,880],[135,835],[156,800],[185,745],[200,700],[300,700],[310,745],[325,780],[336,820],[348,890],[356,960],[380,1040],[396,1100],[406,1200],[401,1330],[365,1345],[336,1370],[326,1410],[286,1380],[226,1370],[191,1340],[186,1200],[136,1110],[101,1020],[106,950]]
]
const roomCandHaze = [
  [[185,420],[250,300],[300,330],[310,400],[320,480],[300,600],[320,700],[195,700],[215,600],[195,500]],
  [[135,175],[225,160],[225,235],[130,240]]
]
const roomCloud = [[143,158],[165,165],[185,160],[205,152],[215,150],[228,155],[135,180],[150,185],[170,180],[185,185],[195,175],[210,170],[222,175],[140,205],[155,205],[175,205],[190,200],[205,195],[225,200],[245,215],[260,225],[275,210],[120,218],[130,235],[155,240],[170,235],[190,225],[215,225],[235,235],[250,235],[97,235],[213,260],[190,265],[232,265],[250,275],[245,295],[255,310],[262,325],[270,340],[285,320],[290,340],[280,360],[265,360],[182,300],[195,300],[210,320],[135,330],[140,345],[320,275],[335,280],[348,292],[345,320],[350,345],[360,365],[340,370],[345,395],[205,350],[215,365],[195,375],[185,365],[225,380],[250,385],[275,385],[300,395],[305,415],[180,415],[195,430],[175,430],[215,420],[235,410],[255,410],[280,420],[300,440],[320,435],[185,450],[210,455],[235,450],[260,440],[285,460],[310,470],[320,490],[195,490],[220,480],[245,480],[270,490],[295,490],[205,520],[230,510],[255,515],[280,520],[305,520],[330,545],[215,545],[240,545],[265,545],[290,555],[315,555],[240,575],[260,580],[285,585],[305,590],[175,520],[150,405],[210,610],[235,620],[265,610],[290,620],[315,620],[195,640],[220,650],[250,650],[280,640],[305,650],[320,660],[190,680],[215,680],[245,685],[275,675],[300,685],[325,705],[160,690],[175,690],[155,710],[170,720],[185,710],[350,650],[380,685],[60,632],[113,632],[148,648],[150,730],[350,745],[362,750],[360,775],[345,790],[375,772],[325,760],[170,760],[190,770],[75,768],[85,775],[105,790],[115,805],[355,855],[372,843],[395,875],[405,890],[390,890],[415,900],[428,930],[360,905],[375,905],[365,935],[380,950],[395,960],[365,975],[400,985],[385,1000],[410,1000],[400,1020],[395,1060],[410,1070],[435,1065],[420,1090],[430,1100],[415,1130],[450,1105],[465,1115],[475,1120],[487,1100],[488,1125],[460,1165],[415,1165],[460,1200],[455,1225],[420,1270],[435,1280],[420,1300],[410,1320],[420,1360],[437,1365],[100,880],[105,910],[95,945],[100,970],[90,995],[100,1010],[70,1005],[60,1035],[80,1045],[95,1060],[52,1095],[90,1100],[105,1090],[115,1110],[95,1130],[120,1140],[130,1160],[145,1180],[165,1190],[140,1210],[170,1225],[150,1250],[180,1270],[165,1290],[140,1300],[130,1305],[190,1310],[155,1350],[165,1365],[190,1385],[185,1385],[170,1405],[190,1407],[200,1370],[225,1370],[250,1380],[280,1385],[300,1395],[320,1410],[320,1430],[335,1440],[350,1430],[365,1437],[310,1420]]
const roomEdge = [[180,200],[200,210],[215,195],[235,215],[160,220],[145,225],[245,300],[250,330],[275,325],[280,340],[290,325],[275,375],[262,400],[290,400],[300,410],[200,390],[215,395],[225,400],[240,395],[265,375],[190,410],[205,435],[225,435],[245,430],[265,425],[290,435],[310,455],[200,465],[225,465],[250,465],[270,465],[295,470],[205,505],[220,500],[245,500],[265,505],[290,505],[315,505],[225,530],[250,530],[275,535],[300,535],[320,530],[250,560],[275,560],[300,570],[225,590],[245,600],[275,600],[295,600],[220,630],[245,635],[270,630],[295,635],[180,700],[205,705],[230,700],[255,705],[285,705],[310,710],[165,700],[150,690],[335,730],[345,765],[350,770],[130,790],[110,820],[115,850],[125,880],[345,830],[350,860],[360,870],[375,890],[380,925],[395,930],[410,925],[420,940],[405,955],[415,975],[425,1000],[415,1040],[430,1050],[420,1110],[430,1140],[430,1190],[425,1240],[415,1240],[85,1020],[95,1030],[85,1080],[100,1120],[110,1140],[115,1165],[125,1195],[135,1190],[155,1220],[160,1260],[175,1300],[175,1335],[180,1360],[205,1360],[225,1385],[270,1395],[290,1410],[310,1405]]
const roomCloudGaps = [[238,1018],[200,1080],[215,1080],[270,1075],[285,1160],[300,1085]]
const roomCand = [[214,150],[141,178],[156,178],[176,170],[191,175],[226,175],[171,190],[191,195],[224,190],[141,205],[181,210],[196,215],[218,212],[278,210],[128,232],[146,235],[171,225],[194,225],[218,238],[241,240],[248,232],[258,232],[331,275],[321,285],[341,280],[336,292],[251,285],[241,300],[261,300],[246,315],[264,320],[209,318],[291,325],[276,340],[288,350],[261,355],[138,340],[206,350],[156,365],[186,375],[206,380],[271,380],[336,372],[306,395],[301,415],[241,395],[221,410],[171,410],[196,420],[181,440],[211,440],[241,430],[266,430],[196,470],[221,465],[246,460],[271,465],[291,480],[311,485],[321,475],[201,500],[231,495],[261,495],[296,525],[311,545],[201,530],[226,530],[251,525],[186,548],[226,560],[266,550],[291,560],[231,605],[256,605],[271,590],[306,598],[266,625],[201,615],[194,640],[191,665],[211,660],[226,640],[246,655],[286,635],[306,655],[186,690],[211,690],[236,680],[261,690],[281,680],[154,715],[181,730],[211,720],[236,720],[266,715],[291,715],[311,700],[72,767],[361,780],[368,778],[321,765],[126,810],[146,800],[111,838],[116,860],[136,840],[121,890],[108,935],[101,985],[96,1010],[81,1050],[141,1060],[101,1125],[116,1170],[156,1150],[131,1130],[161,1200],[151,1240],[128,1262],[166,1265],[146,1295],[171,1330],[161,1365],[181,1345],[201,1385],[226,1370],[413,872],[401,885],[406,895],[399,910],[374,912],[361,950],[386,975],[376,985],[421,990],[381,1010],[401,1025],[391,1040],[416,1095],[406,1110],[451,1110],[456,1128],[476,1130],[418,1200],[433,1205],[460,1195],[421,1350],[436,1358],[421,1368],[396,1350],[361,1365],[261,1400],[311,1425],[306,1442],[331,1440],[346,1425],[344,1435],[361,1437],[376,1445]]
const roomCandEdge = [[200,640],[215,625],[235,635],[255,640],[280,650],[300,670],[195,720],[220,735],[250,700],[275,730],[300,735],[245,750],[225,590],[250,570],[265,585],[215,575],[190,600],[170,760],[150,780],[125,830],[110,880],[100,950],[85,1020],[110,1110],[130,1170],[145,1230],[165,1310],[180,1360],[240,1385],[290,1395],[365,1360],[395,1345],[410,1280],[420,1200],[405,1100],[390,1040],[370,960],[350,870],[330,800],[320,760],[190,1300],[175,1260],[140,1160],[160,1170]]
const roomCandHoles = [[171,930],[186,940],[196,985],[241,990],[241,1010],[244,1030],[221,960],[256,945],[276,1050],[241,1055],[216,1075],[201,1100],[286,1080],[281,1100],[196,1130],[226,1150],[271,1160],[291,1155],[171,1100],[236,1180],[311,860],[206,830],[156,850],[336,1050]]
const roomRemoved = [[220,180],[144,200],[197,226],[213,352],[197,370],[204,370],[199,430],[201,444],[234,447],[238,449],[233,511],[217,525],[223,540],[220,538],[240,608],[227,698],[233,699],[238,705],[284,711],[280,746],[232,767],[169,785],[225,793],[237,813],[225,820],[232,825],[233,834],[280,831],[289,843],[275,853],[261,875],[231,889],[233,905],[248,890],[272,918],[251,925],[259,922],[255,940],[222,937],[168,937],[240,942],[243,955],[215,955],[174,955],[270,945],[296,950],[297,958],[274,972],[166,968],[166,985],[297,990],[120,1005],[164,1025],[167,1035],[199,1037],[324,1028],[353,1040],[297,1058],[139,1066],[135,1078],[319,1076],[338,1074],[345,1075],[367,1090],[353,1095],[320,1100],[325,1105],[330,1108],[345,1100],[343,1108],[126,1113],[262,1120],[335,1125],[353,1122],[370,1132],[310,1135],[307,1145],[173,1155],[147,1168],[330,1155],[320,1162],[362,1160],[310,1172],[360,1167],[280,1178],[307,1175],[154,1198],[175,1198],[201,1192],[270,1210],[285,1202],[303,1200],[335,1210],[189,1220],[293,1230],[315,1225],[352,1220],[360,1215],[347,1230],[278,1235],[277,1247],[345,1245],[154,1240],[379,1237],[229,1238],[241,1245],[226,1250],[215,1258],[265,1255],[261,1265],[235,1272],[223,1280],[190,1280],[185,1292],[202,1293],[237,1285],[292,1282],[346,1270],[363,1268],[378,1280],[345,1277],[360,1285],[339,1293],[380,1290],[360,1297],[328,1300],[331,1308],[237,1305],[244,1310],[311,1308],[387,1303],[375,1312],[366,1320],[295,1320],[340,1325],[253,1323],[255,1332],[203,1327],[197,1337],[214,1340],[284,1346],[260,1348],[261,1362],[385,1348]]

const sceneNames = ['Auditorium', 'Ballroom', 'Church', 'Museum', 'Room']
const panelTitles = [
  'All Gaussians',
  'Candidates {cal|C}{sub|base}',
  'Detail Guarded {mi|M}{sub|detail}',
  'Removed ({cal|C}{sub|prune} \\ {mi|M}{sub|detail})'
]
const legendNames = ['Cbase', 'Mdetail', 'Removed']

// page layout, in pixels
const wideCols = [[23, 613], [636, 1226], [1249, 1838], [1861, 2452]]
const roomCols = [[218, 526], [795, 1102], [1372, 1680], [1948, 2256]]
const scenes = [
  { core: auditoriumCore, haze: auditoriumHaze, candCore: auditoriumCandCore, candHaze: auditoriumCandHaze, cloud: auditoriumCloud.concat(auditoriumEdge), gaps: auditoriumCloudGaps, cand: auditoriumCand.concat(auditoriumCandEdge), holes: auditoriumCandHoles, removed: auditoriumRemoved,
    x: [29, 775], y: [155, 965], top: 142, bottom: 412, cols: wideCols, titleY: 49, subY: 121, redSize: 6 },
  { core: ballroomCore, haze: ballroomHaze, candCore: ballroomCandCore, candHaze: ballroomCandHaze, cloud: ballroomCloud.concat(ballroomEdge), gaps: [], cand: ballroomCand, holes: ballroomCandHoles, removed: ballroomRemoved,
    x: [29, 775], y: [130, 1050], top: 563, bottom: 870, cols: wideCols, titleY: 471, subY: 542, redSize: 7 },
  { core: churchCore, haze: churchHaze, candCore: churchCandCore, candHaze: churchCandHaze, cloud: churchCloud.concat(churchEdge), gaps: [], cand: churchCand.concat(churchCandEdge), holes: churchCandHoles, removed: churchRemoved,
    x: [29, 775], y: [135, 1178], top: 1020, bottom: 1368, cols: wideCols, titleY: 934, subY: 998, redSize: 6.5 },
  { core: museumCore, haze: museumHaze, candCore: museumCandCore, candHaze: museumCandHaze, cloud: museumCloud.concat(museumEdge), gaps: museumCloudGaps, cand: museumCand, holes: museumCandHoles, removed: museumRemoved,
    x: [29, 775], y: [135, 1355], top: 1515, bottom: 1922, cols: wideCols, titleY: 1425, subY: 1493, redSize: 6.5 },
  { core: roomCore, haze: roomHaze, candCore: roomCandCore, candHaze: roomCandHaze, cloud: roomCloud.concat(roomEdge), gaps: roomCloudGaps, cand: roomCand.concat(roomCandEdge), holes: roomCandHoles, removed: roomRemoved,
    x: [29, 512], y: [83, 1510], top: 2091, bottom: 2628, cols: roomCols, titleY: 1990, subY: 2071, redSize: 7 }
]

const GREY = '#7f7f7f', RED = '#d62728', BLUE = '#1f77b4', GREEN = '#2ca02c'
const FAINT_CORE = '#f1f1f1', FAINT_POINT = '#f2f2f2', REMOVED_CORE = '#dedede'

const titles = [], grids = [], xAxes = [], yAxes = [], series = [], legends = []

const richTitle = {
  cal: { fontFamily: 'Liberation Serif', fontStyle: 'italic', fontSize: 28, color: '#000' },
  mi: { fontFamily: 'DejaVu Sans', fontStyle: 'italic', fontSize: 26, color: '#000' },
  sub: { fontFamily: 'DejaVu Sans', fontStyle: 'italic', fontSize: 18, color: '#000', padding: [10, 0, 0, 0] }
}
const richLegend = {
  cal: { fontFamily: 'Liberation Serif', fontStyle: 'italic', fontSize: 18, color: '#000' },
  mi: { fontFamily: 'DejaVu Sans', fontStyle: 'italic', fontSize: 17, color: '#000' },
  sub: { fontFamily: 'DejaVu Sans', fontStyle: 'italic', fontSize: 12, color: '#000', padding: [7, 0, 0, 0] },
  txt: { fontFamily: 'DejaVu Sans', fontSize: 17, color: '#000' }
}
const legendText = {
  Cbase: '{cal|C}{sub|base}',
  Mdetail: '{mi|M}{sub|detail}{txt| (protected)}',
  Removed: '{txt|Removed}'
}

// haze regions get a wide blur so the sparse parts of a cloud fade out, dense cores a slight one
function polygons(list, fill, g, z, opacity = 1, blur = 5) {
  return {
    type: 'custom', coordinateSystem: 'cartesian2d', xAxisIndex: g, yAxisIndex: g, silent: true, z,
    data: list.map((p, i) => [p[0][0], p[0][1], i]),
    encode: { x: 0, y: 1 },
    renderItem: (params, api) => ({
      type: 'polygon',
      shape: { points: list[api.value(2)].map(pt => api.coord(pt)) },
      style: { fill, opacity, shadowBlur: blur, shadowColor: fill }
    })
  }
}

function points(data, color, size, g, z, name) {
  return {
    type: 'scatter', name, data, xAxisIndex: g, yAxisIndex: g, z, silent: true,
    symbolSize: size, itemStyle: { color, opacity: 1 }
  }
}

scenes.forEach((s, r) => {
  titles.push({
    text: sceneNames[r], left: 1236.5, top: s.titleY - 22, padding: 0, textAlign: 'center',
    textStyle: { fontFamily: 'Liberation Serif', fontSize: 50, fontWeight: 'normal', color: '#000', lineHeight: 54 }
  })
  s.cols.forEach((col, c) => {
    const g = grids.length
    grids.push({
      left: col[0], top: s.top, width: col[1] - col[0], height: s.bottom - s.top,
      show: true, borderColor: '#222', borderWidth: 2, backgroundColor: '#fff'
    })
    xAxes.push({ gridIndex: g, type: 'value', min: s.x[0], max: s.x[1], show: false })
    yAxes.push({ gridIndex: g, type: 'value', min: s.y[0], max: s.y[1], inverse: true, show: false })
    titles.push({
      text: panelTitles[c], left: (col[0] + col[1]) / 2, top: s.subY - 12, padding: 0, textAlign: 'center',
      textStyle: { fontFamily: 'DejaVu Sans', fontSize: 26, fontWeight: 'normal', color: '#000', rich: richTitle }
    })
    if (c === 0) {
      series.push(polygons(s.haze, GREY, g, 1, 0.3, 26), polygons(s.core, GREY, g, 2), points(s.cloud, GREY, 4, g, 3), points(s.gaps, '#fff', 4, g, 4))
    } else if (c === 1) {
      series.push(polygons(s.haze, '#f7f7f7', g, 1, 1, 20), polygons(s.core, FAINT_CORE, g, 2), points(s.cloud, FAINT_POINT, 4, g, 2))
      series.push(polygons(s.candHaze, RED, g, 2, 0.35, 18), polygons(s.candCore, RED, g, 3), points(s.holes, '#e9e9e9', 8, g, 4), points(s.cand, RED, s.redSize, g, 5, legendNames[0]))
    } else if (c === 2) {
      series.push(polygons(s.haze, BLUE, g, 1, 0.34, 26), polygons(s.core, BLUE, g, 2), points(s.cloud, BLUE, 4.5, g, 3, legendNames[1]), points(s.gaps, '#fff', 4, g, 4))
    } else {
      series.push(polygons(s.haze, '#f5f5f5', g, 1, 1, 20), polygons(s.core, REMOVED_CORE, g, 2), points(s.cloud, '#ececec', 4, g, 2), points(s.gaps, '#f1f1f1', 4, g, 3))
      series.push(points(s.removed, GREEN, 7, g, 5, legendNames[2]))
    }
    if (c > 0) {
      const name = legendNames[c - 1]
      legends.push({
        data: [{ name, icon: 'circle' }], right: 2475 - col[1] + 14, top: s.bottom - 31, padding: 0,
        itemWidth: 54, itemHeight: c === 2 ? 4 : 6, selectedMode: false,
        formatter: n => legendText[n],
        textStyle: { fontFamily: 'DejaVu Sans', fontSize: 17, color: '#000', rich: richLegend }
      })
    }
  })
})

const chart = echarts.init(document.getElementById('chart'), null, { renderer: 'canvas' })
chart.setOption({
  animation: false,
  backgroundColor: '#fff',
  title: titles,
  grid: grids,
  xAxis: xAxes,
  yAxis: yAxes,
  legend: legends,
  tooltip: { show: false },
  series
})
</script>
</body>
</html>
